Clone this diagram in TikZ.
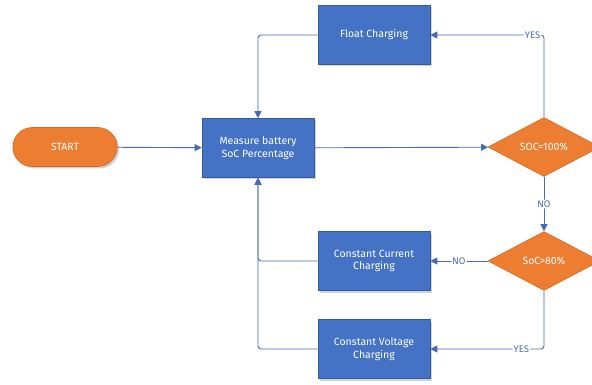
\documentclass[tikz,border=0pt]{standalone}
\usepackage{fontspec}
\setmainfont{Fira Sans}
\usepackage{tikz}
\usetikzlibrary{shapes.geometric, shapes.misc, arrows.meta, positioning, shadows}
\definecolor{boxblue}{RGB}{68, 114, 196}
\definecolor{boxedge}{RGB}{52, 90, 160}
\definecolor{startorange}{RGB}{237, 125, 49}
\definecolor{orangeedge}{RGB}{214, 105, 35}
\definecolor{flowline}{RGB}{70, 106, 180}

\tikzset{
  softshadow/.style={drop shadow={opacity=0.35, shadow xshift=2pt, shadow yshift=-2pt}},
  process/.style={rectangle, fill=boxblue, draw=boxedge, line width=0.6pt,
                  minimum width=112pt, minimum height=59pt, inner sep=2pt,
                  text=white, align=center, font=\fontsize{10.5}{12.5}\selectfont, softshadow},
  decision/.style={diamond, fill=startorange, draw=orangeedge, line width=0.6pt,
                   shape aspect=1.9, minimum width=112pt, minimum height=59pt, inner sep=0pt,
                   text=white, align=center, font=\fontsize{10.5}{12.5}\selectfont},
  terminal/.style={rounded rectangle, fill=startorange, draw=orangeedge, line width=0.6pt,
                   minimum width=111pt, minimum height=39pt,
                   text=white, font=\fontsize{10.5}{12.5}\selectfont, softshadow},
  flow/.style={draw=flowline, line width=0.9pt, rounded corners=3pt,
               -{Triangle[length=7pt, width=7pt]}},
  answer/.style={fill=white, text=flowline, inner sep=1pt, font=\fontsize{9.5}{10}\selectfont}
}

\begin{document}
\begin{tikzpicture}[x=1pt, y=-1pt]
  \useasboundingbox (0,0) rectangle (592,385);

  % nodes
  \node[terminal] (start) at (65,147) {START};
  \node[process] (measure) at (258,148) {Measure battery\\SoC Percentage};
  \node[process] (float) at (374,35) {Float Charging};
  \node[decision] (soc100) at (544,147) {SOC=100\%};
  \node[decision] (soc80) at (544,261) {SoC>80\%};
  \node[process] (ccurrent) at (374,261) {Constant Current\\Charging};
  \node[process] (cvoltage) at (374,349) {Constant Voltage\\Charging};

  % connectors
  \draw[flow] (start) -- (measure);
  \draw[flow] (measure) -- (soc100);
  \draw[flow] (soc100.north) |- node[answer, pos=0.55] {YES} (float.east);
  \draw[flow] (soc100) -- node[answer] {NO} (soc80);
  \draw[flow] (soc80) -- node[answer] {NO} (ccurrent);
  \draw[flow] (soc80.south) |- node[answer, pos=0.6] {YES} (cvoltage.east);
  \draw[flow] (float.west) -| (measure.north);
  \draw[flow] (ccurrent.west) -| (measure.south);
  \draw[flow] (cvoltage.west) -| (measure.south);
\end{tikzpicture}
\end{document}
